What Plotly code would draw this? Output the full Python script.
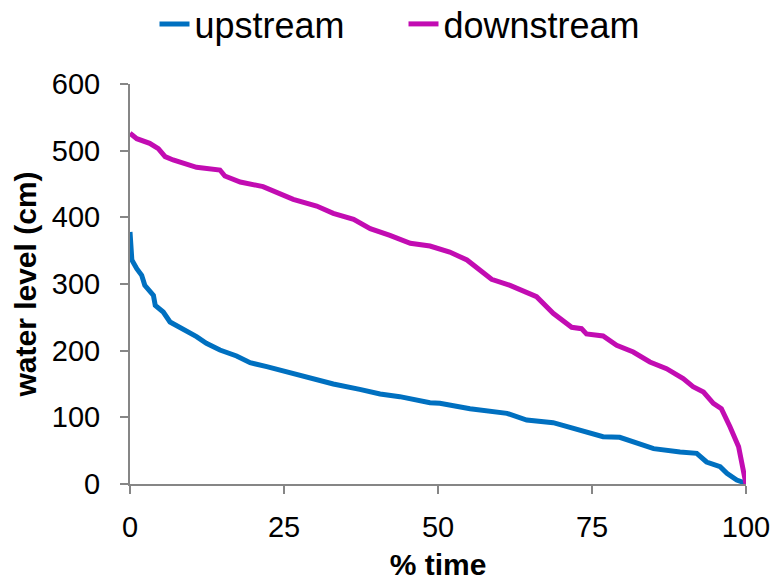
import plotly.graph_objects as go

# Duration curves: water level exceeded for a given % of time
up_pct = [0, 0.3, 1.1, 1.9, 2.4, 3.8, 4.1, 5.4, 6.5, 8.1, 10.8, 12.4, 14.6, 17.3, 19.5,
          22.2, 25.4, 28.7, 33.0, 37.3, 40.6, 43.8, 46.5, 48.7, 50.3, 55.2, 61.2, 64.4,
          68.7, 74.1, 76.8, 79.5, 85.0, 89.3, 92.0, 93.6, 95.8, 96.9, 98.5, 100]
up_level = [378, 336, 323, 313, 298, 283, 268, 258, 243, 235, 221, 211, 201, 192, 182,
            176, 168, 161, 150, 142, 135, 131, 126, 122, 121, 113, 106, 96,
            92, 78, 71, 70, 53, 48, 46, 33, 26, 16, 6, 1]

down_pct = [0, 1.1, 3.2, 4.6, 5.7, 7.0, 10.8, 14.6, 15.4, 17.9, 21.6, 24.4, 26.5, 30.3,
            33.0, 36.3, 39.0, 42.2, 45.5, 48.7, 51.9, 54.7, 56.8, 58.7, 61.7, 63.3, 66.0,
            68.7, 71.7, 73.3, 74.1, 76.8, 79.0, 81.7, 84.4, 87.1, 89.8, 91.4, 93.1, 94.7,
            96.0, 97.4, 98.8, 100]
down_level = [526, 518, 511, 503, 491, 486, 475, 471, 462, 453, 446, 436, 427, 417,
              406, 397, 383, 373, 361, 357, 348, 336, 321, 307, 298, 291, 281,
              256, 235, 233, 225, 222, 208, 198, 183, 173, 158, 146, 138, 121,
              113, 86, 56, 0]

x_ticks = [0, 25, 50, 75, 100]
y_ticks = [0, 100, 200, 300, 400, 500, 600]

FONT = "Liberation Sans, Arial, sans-serif"
AXIS_GREY = "#868686"

fig = go.Figure()
fig.add_trace(go.Scatter(x=up_pct, y=up_level, mode="lines", name="upstream",
                         line=dict(color="#0070C0", width=5), cliponaxis=False))
fig.add_trace(go.Scatter(x=down_pct, y=down_level, mode="lines", name="downstream",
                         line=dict(color="#C20CB2", width=5), cliponaxis=False))

fig.update_layout(
    width=777, height=583,
    margin=dict(l=130, r=31, t=84, b=99, autoexpand=False),
    paper_bgcolor="white", plot_bgcolor="white",
    font=dict(family=FONT, color="black"),
    showlegend=True,
    legend=dict(orientation="h", x=0.5 + 15 / 777, xanchor="center", xref="container",
                y=1 - 24 / 583, yanchor="middle", yref="container",
                font=dict(size=36, family=FONT), tracegroupgap=0,
                entrywidth=204, entrywidthmode="pixels"),
)
fig.update_xaxes(
    range=[0, 100], tickvals=x_ticks, ticks="outside", ticklen=8, tickwidth=2,
    tickcolor=AXIS_GREY, showline=True, linecolor=AXIS_GREY, linewidth=2,
    showgrid=False, zeroline=False, tickfont=dict(size=29, family=FONT),
    ticklabelstandoff=8,
    title=dict(text="<b>% time</b>", font=dict(size=30, family=FONT), standoff=12),
)
fig.update_yaxes(
    range=[0, 600], tickvals=y_ticks, ticks="outside", ticklen=8, tickwidth=2,
    tickcolor=AXIS_GREY, showline=True, linecolor=AXIS_GREY, linewidth=2,
    showgrid=False, zeroline=False, tickfont=dict(size=29, family=FONT),
    ticklabelstandoff=14,
    title=dict(text="<b>water level (cm)</b>", font=dict(size=30, family=FONT), standoff=6),
)

fig.write_html("out.html")
